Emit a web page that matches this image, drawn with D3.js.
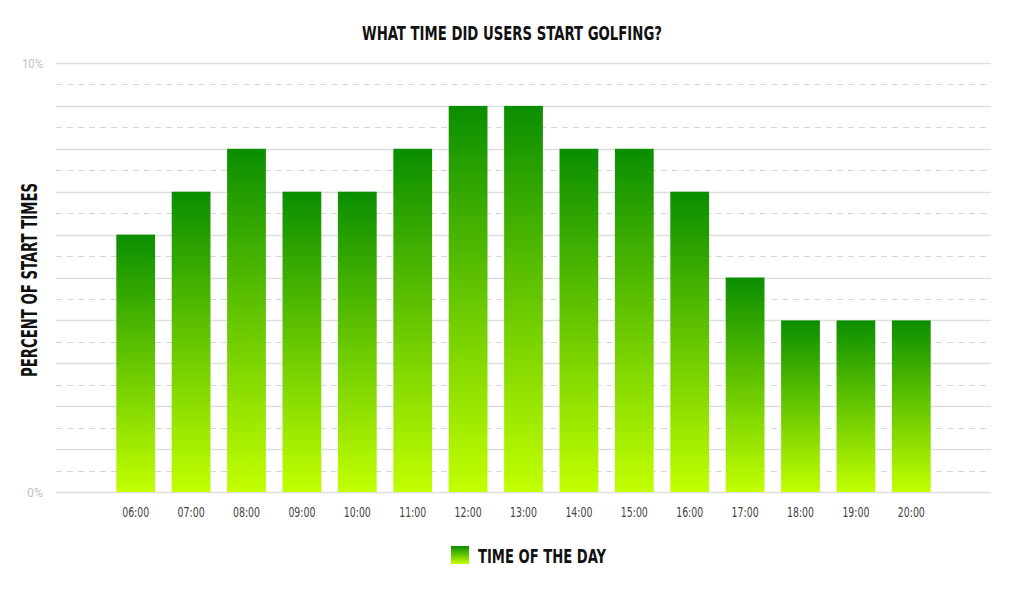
<!DOCTYPE html>
<html>
<head>
<meta charset="utf-8">
<script src="https://cdn.jsdelivr.net/npm/d3@7.9.0/dist/d3.min.js"></script>
<style>
  html, body { margin: 0; padding: 0; background: #fff; }
  svg { display: block; }
  .cond { font-family: "DejaVu Sans Condensed", "Liberation Sans Narrow", sans-serif; }
</style>
</head>
<body>
<svg id="chart" width="1024" height="591"></svg>
<script>
const hours = ["06:00", "07:00", "08:00", "09:00", "10:00", "11:00", "12:00",
  "13:00", "14:00", "15:00", "16:00", "17:00", "18:00", "19:00", "20:00"];
const percents = [6, 7, 8, 7, 7, 8, 9, 9, 8, 8, 7, 5, 4, 4, 4];
const yTickLabels = [0, 10];
const title = "WHAT TIME DID USERS START GOLFING?";
const yTitle = "PERCENT OF START TIMES";
const legendLabel = "TIME OF THE DAY";

const width = 1024;
const height = 591;
const margin = { top: 63, right: 33, bottom: 99, left: 56 };

const svg = d3.select("#chart");

const defs = svg.append("defs");
const grad = defs.append("linearGradient")
  .attr("id", "barGrad")
  .attr("x1", 0).attr("y1", 0).attr("x2", 0).attr("y2", 1);
grad.append("stop").attr("offset", "0%").attr("stop-color", "#0a8e00");
grad.append("stop").attr("offset", "100%").attr("stop-color", "#c2ff00");

const x = d3.scaleBand()
  .domain(hours)
  .range([108, 939])
  .paddingInner(0.3)
  .paddingOuter(0.15);

const y = d3.scaleLinear()
  .domain([0, 10])
  .range([height - margin.bottom, margin.top]);

// grid: solid on whole percents, dashed on halves
const gridVals = d3.range(0, 10.01, 0.5);
svg.append("g")
  .selectAll("line")
  .data(gridVals)
  .join("line")
  .attr("x1", margin.left)
  .attr("x2", width - margin.right)
  .attr("y1", (d) => Math.round(y(d)) + 0.5)
  .attr("y2", (d) => Math.round(y(d)) + 0.5)
  .attr("stroke", (d) => (d % 1 === 0 ? "#dedede" : "#d6d6d6"))
  .attr("stroke-width", (d) => (d % 1 === 0 ? 1.3 : 1))
  .attr("stroke-dasharray", (d) => (d % 1 === 0 ? null : "6,5"));

// y tick labels
svg.append("g")
  .selectAll("text")
  .data(yTickLabels)
  .join("text")
  .attr("x", 43)
  .attr("y", (d) => y(d) + 4.5)
  .attr("text-anchor", "end")
  .attr("font-family", "Roboto, sans-serif")
  .attr("font-size", 12)
  .attr("fill", "#c2c2c2")
  .attr("textLength", (d) => (d === 10 ? 21 : 16))
  .attr("lengthAdjust", "spacingAndGlyphs")
  .text((d) => `${d}%`);

// bars
svg.append("g")
  .selectAll("rect")
  .data(percents)
  .join("rect")
  .attr("x", (d, i) => x(hours[i]))
  .attr("y", (d) => y(d))
  .attr("width", x.bandwidth())
  .attr("height", (d) => y(0) - y(d))
  .attr("fill", "url(#barGrad)");

// x axis labels
const xAxis = d3.axisBottom(x).tickSize(0).tickPadding(0);
const gx = svg.append("g")
  .attr("transform", `translate(0, ${y(0) + 25})`)
  .call(xAxis);
gx.select(".domain").remove();
gx.selectAll("text")
  .attr("class", "cond")
  .attr("dy", null)
  .attr("y", 0)
  .attr("font-size", 13.5)
  .attr("fill", "#444")
  .attr("textLength", 27)
  .attr("lengthAdjust", "spacingAndGlyphs");

// title
svg.append("text")
  .attr("class", "cond")
  .attr("x", 512)
  .attr("y", 40)
  .attr("text-anchor", "middle")
  .attr("font-size", 20)
  .attr("font-weight", "bold")
  .attr("fill", "#111")
  .attr("textLength", 300)
  .attr("lengthAdjust", "spacingAndGlyphs")
  .text(title);

// y axis title
svg.append("text")
  .attr("class", "cond")
  .attr("transform", `translate(37, 280) rotate(-90)`)
  .attr("text-anchor", "middle")
  .attr("font-size", 21)
  .attr("font-weight", "bold")
  .attr("fill", "#111")
  .attr("textLength", 194)
  .attr("lengthAdjust", "spacingAndGlyphs")
  .text(yTitle);

// legend
const legend = svg.append("g").attr("transform", "translate(451, 546)");
legend.append("rect")
  .attr("width", 18)
  .attr("height", 18)
  .attr("fill", "url(#barGrad)");
legend.append("text")
  .attr("class", "cond")
  .attr("x", 27)
  .attr("y", 17)
  .attr("font-size", 20)
  .attr("font-weight", "bold")
  .attr("fill", "#111")
  .attr("textLength", 128)
  .attr("lengthAdjust", "spacingAndGlyphs")
  .text(legendLabel);
</script>
</body>
</html>
